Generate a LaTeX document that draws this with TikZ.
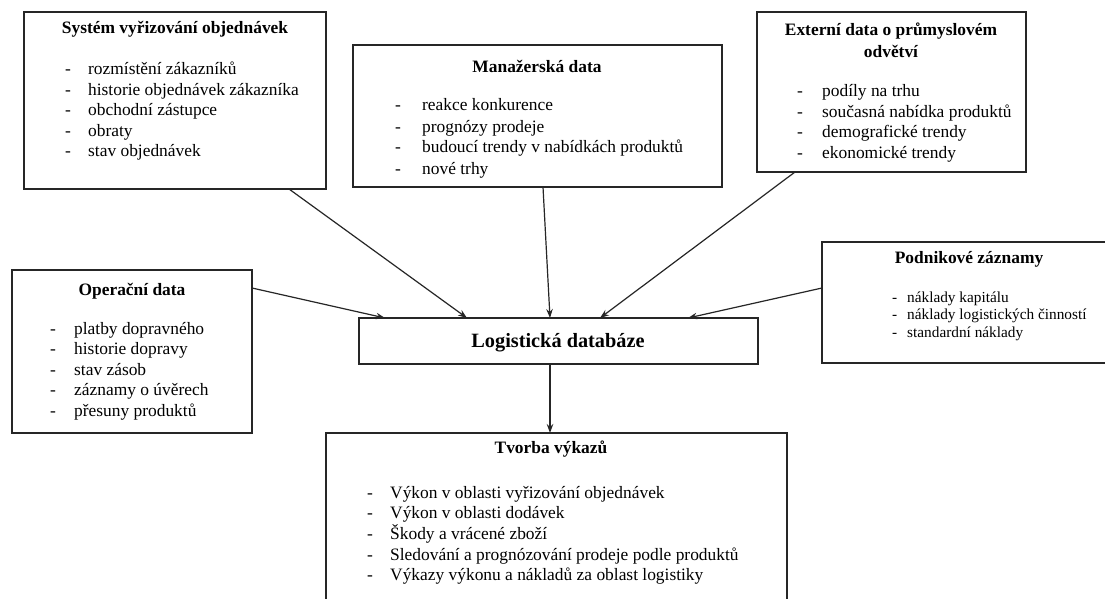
\documentclass[tikz,border=0pt]{standalone}
\usepackage{fontspec}
\setmainfont{Liberation Serif}
\usetikzlibrary{arrows.meta,calc}

% text sizes: list items, box headings, database label
\newcommand\itemfont{\fontsize{17.4}{20.5}\selectfont}
\newcommand\smallitemfont{\fontsize{15.3}{17.6}\selectfont}
\newcommand\headfont{\fontsize{17.4}{22}\selectfont\bfseries}
\newcommand\dbfont{\fontsize{20.3}{24}\selectfont\bfseries}
% dash list: #1 = distance from dash to item text, #2 = rows
\newcommand\dashlist[2]{\begin{tabular}[t]{@{}p{#1}@{}l@{}}#2\end{tabular}}

\tikzset{
  panel/.style={draw=black!85, line width=1.3pt, fill=white, inner sep=0pt,
    outer sep=0pt, anchor=north west, rectangle},
  head/.style={inner sep=0pt, anchor=base, font=\headfont},
  items/.style={inner sep=0pt, anchor=base west, font=\itemfont},
  link/.style={draw=black!85, line width=1.2pt, -{Stealth[length=9pt,width=6.5pt]}}
}

\begin{document}
\begin{tikzpicture}[x=1pt,y=-1pt]
\useasboundingbox (0,0) rectangle (1105,599);
\fill[white] (0,0) rectangle (1105,599);

% ---- boxes ----
\node[panel, minimum width=302pt, minimum height=177pt] (sys) at (24,12) {};
\node[panel, minimum width=369pt, minimum height=142pt] (man) at (353,45) {};
\node[panel, minimum width=269pt, minimum height=160pt] (ext) at (757,12) {};
\node[panel, minimum width=240pt, minimum height=163pt] (ops) at (12,270) {};
\node[panel, minimum width=288pt, minimum height=121pt] (pod) at (822,242) {};
\node[panel, minimum width=399pt, minimum height=46pt] (db) at (359,318) {};
\node[panel, minimum width=461pt, minimum height=177pt] (rep) at (326,433) {};

% ---- order processing ----
\node[head] (sysT) at (175,34) {Systém vyřizování objednávek};
\node[items] (sysL) at (65,75) {\dashlist{23pt}{%
  -& rozmístění zákazníků\\
  -& historie objednávek zákazníka\\
  -& obchodní zástupce\\
  -& obraty\\
  -& stav objednávek}};

% ---- management data ----
\node[head] (manT) at (537,73) {Manažerská data};
\node[items, font=\fontsize{17.4}{21}\selectfont] (manL) at (395,111) {\dashlist{27pt}{%
  -& reakce konkurence\\
  -& prognózy prodeje\\
  -& budoucí trendy v nabídkách produktů\\
  -& nové trhy}};

% ---- external industry data ----
\node[head] (extT) at (891,36) {\begin{tabular}[t]{@{}c@{}}Externí data o průmyslovém\\ odvětví\end{tabular}};
\node[items] (extL) at (797,97) {\dashlist{25pt}{%
  -& podíly na trhu\\
  -& současná nabídka produktů\\
  -& demografické trendy\\
  -& ekonomické trendy}};

% ---- operational data ----
\node[head] (opsT) at (132,295) {Operační data};
\node[items] (opsL) at (50,334) {\dashlist{24pt}{%
  -& platby dopravného\\
  -& historie dopravy\\
  -& stav zásob\\
  -& záznamy o úvěrech\\
  -& přesuny produktů}};

% ---- company records ----
\node[head] (podT) at (969,263) {Podnikové záznamy};
\node[items, font=\smallitemfont] (podL) at (892,302) {\dashlist{15pt}{%
  -& náklady kapitálu\\
  -& náklady logistických činností\\
  -& standardní náklady}};

% ---- logistics database ----
\node[inner sep=0pt, anchor=base, font=\dbfont] (dbT) at (558,347) {Logistická databáze};

% ---- reporting ----
\node[head] (repT) at (551,453) {Tvorba výkazů};
\node[items] (repL) at (367,498) {\dashlist{23pt}{%
  -& Výkon v oblasti vyřizování objednávek\\
  -& Výkon v oblasti dodávek\\
  -& Škody a vrácené zboží\\
  -& Sledování a prognózování prodeje podle produktů\\
  -& Výkazy výkonu a nákladů za oblast logistiky}};

% ---- connectors ----
\draw[link] ($(sys.south west)+(265,0)$) -- ($(db.north west)+(108,0)$);
\draw[link] ($(man.south west)+(190,0)$) -- ($(db.north west)+(191,0)$);
\draw[link] ($(ext.south west)+(38,0)$) -- ($(db.north west)+(241,0)$);
\draw[link] ($(ops.north east)+(0,18)$) -- ($(db.north west)+(26,0)$);
\draw[link] ($(pod.north west)+(0,46)$) -- ($(db.north west)+(329,0)$);
\draw[link] ($(db.south west)+(191,0)$) -- ($(rep.north west)+(224,0)$);
\end{tikzpicture}
\end{document}
